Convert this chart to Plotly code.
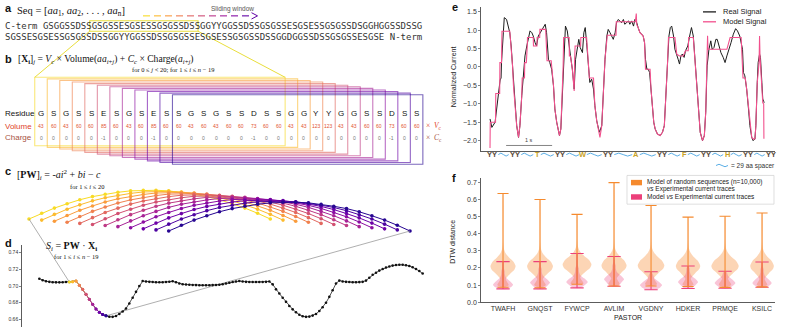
import plotly.graph_objects as go
from plotly.colors import sample_colorscale

W, H = 786, 334
SANS = "Liberation Sans, Arial, sans-serif"
SERIF = "Liberation Serif, DejaVu Serif, serif"
MONO = "DejaVu Sans Mono, Liberation Mono, monospace"

# ------------------------------------------------------------------ data
seq_line1 = "C-term GSGGSSDSSGSGSSESGSESSGSGSSDSSGGYYGGSSDSSGSGSSESGSESSGSGSSDSGGHGGSSDSSG"
seq_line2 = "SGSSESGSESSGSGSSDSSGGYYGGSSDSSGSGSSESGSESSGSGSSDSSGGDGGSSDSSGSGSSESGSE N-term"
window_start_in_line1 = 9          # residues before the highlighted window
window_residues = list("GSGSSESGSESSGSGSSDSSGGYYGGSSDSS")
window_volumes = [43, 60, 43, 60, 60, 85, 60, 43, 60, 85, 60, 60, 43, 60, 43, 60, 60, 73, 60, 60,
                  43, 43, 123, 123, 43, 43, 60, 60, 73, 60, 60]
window_charges = [0, 0, 0, 0, 0, -1, 0, 0, 0, -1, 0, 0, 0, 0, 0, 0, 0, -1, 0, 0,
                  0, 0, 0, 0, 0, 0, 0, 0, -1, 0, 0]
window_size = 20
n_windows = 12

pw_weights = [0.00, 0.20, 0.38, 0.53, 0.67, 0.78, 0.86, 0.93, 0.98, 1.00,
              1.00, 0.98, 0.93, 0.86, 0.78, 0.67, 0.53, 0.38, 0.20, 0.00]

score_values = [0.7088, 0.7070, 0.7058, 0.7050, 0.7045, 0.7044, 0.7044, 0.7046, 0.7048, 0.7048,
                0.7052, 0.7060, 0.7010, 0.6960, 0.6900, 0.6840, 0.6780, 0.6725, 0.6685, 0.6658,
                0.6642, 0.6632, 0.6630, 0.6640, 0.6665, 0.6695, 0.6730, 0.6790, 0.6860, 0.6930,
                0.7000, 0.7060, 0.7055, 0.7050, 0.7048, 0.7046, 0.7045, 0.7046, 0.7048, 0.7052,
                0.7058, 0.7045, 0.7030, 0.7022, 0.7018, 0.7015, 0.7013, 0.7011, 0.7010, 0.7010,
                0.7010, 0.7010, 0.7011, 0.7013, 0.7016, 0.7022, 0.7030, 0.7040, 0.7048, 0.7055,
                0.7060, 0.7055, 0.7050, 0.7048, 0.7048, 0.7048, 0.7048, 0.7048, 0.7050, 0.7055,
                0.7020, 0.6960, 0.6910, 0.6860, 0.6810, 0.6760, 0.6720, 0.6685, 0.6655, 0.6638,
                0.6630, 0.6633, 0.6645, 0.6665, 0.6700, 0.6745, 0.6800, 0.6870, 0.6950, 0.7030,
                0.7065, 0.7055, 0.7050, 0.7048, 0.7046, 0.7046, 0.7047, 0.7050, 0.7065, 0.7100,
                0.7135, 0.7160, 0.7185, 0.7205, 0.7222, 0.7235, 0.7245, 0.7252, 0.7255, 0.7255,
                0.7250, 0.7240, 0.7225, 0.7205, 0.7180, 0.7150]
score_highlight_start = 9
score_ticks = [0.66, 0.68, 0.70, 0.72, 0.74]

signal_time = [0.00, 0.04, 0.11, 0.14, 0.18, 0.22, 0.24, 0.25, 0.29, 0.31,
               0.36, 0.40, 0.43, 0.46, 0.49, 0.51, 0.54, 0.58, 0.62, 0.65,
               0.69, 0.72, 0.76, 0.80, 0.83, 0.87, 0.91, 0.94, 0.98, 1.01,
               1.05, 1.11, 1.16, 1.20, 1.23, 1.27, 1.30, 1.34, 1.38, 1.41,
               1.45, 1.49, 1.51, 1.54, 1.57, 1.59, 1.62, 1.64, 1.68, 1.72,
               1.75, 1.79, 1.83, 1.86, 1.90, 1.93, 1.96, 2.01, 2.04, 2.07,
               2.10, 2.14, 2.17, 2.21, 2.25, 2.28, 2.32, 2.36, 2.38, 2.43,
               2.46, 2.50, 2.54, 2.57, 2.61, 2.64, 2.68, 2.72, 2.75, 2.79,
               2.86, 2.90, 2.93, 3.01, 3.04, 3.08, 3.12, 3.15, 3.19, 3.22,
               3.26, 3.30, 3.33, 3.36, 3.38, 3.41, 3.44, 3.47, 3.50, 3.53,
               3.56, 3.59, 3.64, 3.70, 3.75, 3.79, 3.83, 3.86, 3.89, 3.92,
               3.95, 3.99, 4.02, 4.06, 4.09, 4.12, 4.15, 4.18, 4.22, 4.25,
               4.30, 4.34, 4.38, 4.42, 4.46, 4.49, 4.53, 4.57, 4.62, 4.66,
               4.69, 4.72, 4.76, 4.80, 4.83, 4.87, 4.91, 4.94, 4.98, 5.02,
               5.07, 5.11, 5.15, 5.20, 5.24, 5.29, 5.34, 5.38, 5.43, 5.49,
               5.51, 5.54, 5.58, 5.62, 5.65, 5.69, 5.72, 5.76, 5.78, 5.81,
               5.83, 5.86, 5.88, 5.91, 5.93, 5.95, 5.96]
real_signal = [-1.41, -1.64, -1.50, -1.14, -0.70, -0.35, -0.30, 0.12, 0.93, 1.34,
               1.29, 1.11, 0.93, 0.57, 0.03, -0.51, -1.05, -1.59, -1.91, -1.59,
               -0.78, -0.24, 0.30, 0.57, 0.75, 0.98, 0.93, 0.84, 0.66, 0.57,
               0.84, 0.98, 1.07, 1.16, 0.93, 0.21, 0.12, -0.06, -0.51, -1.14,
               -1.50, -1.77, -1.86, -1.68, -0.87, 0.03, 0.84, 1.11, 0.98, 0.48,
               0.30, -0.06, -0.60, 0.21, 0.57, 0.75, 0.53, 0.39, 0.93, 1.07,
               0.66, 0.03, -0.42, -0.33, -0.60, -1.05, -1.46, -1.68, -1.77, -1.59,
               -0.69, 0.21, 0.84, 1.02, 0.93, 0.84, 0.75, 0.93, 1.20, 1.29,
               1.20, 1.29, 1.16, 1.25, 1.16, 1.25, 1.11, 1.29, 1.20, 1.07,
               0.93, 0.89, 0.84, 0.66, 0.21, -0.06, -0.06, -0.15, -0.60, -1.14,
               -1.50, -1.68, -1.82, -1.86, -1.77, -1.59, -0.78, 0.12, 0.84, 1.07,
               1.11, 0.84, 0.48, 0.35, 0.21, 0.08, 0.30, 0.35, 0.26, 0.44,
               0.57, 0.84, 1.07, 0.84, 0.12, -0.51, -1.23, -1.77, -2.00, -1.86,
               -1.23, 0.03, 0.48, 0.71, 0.48, 0.53, 0.75, 0.75, 0.57, 0.39,
               0.26, 0.12, 0.30, 0.48, 0.66, 0.89, 1.04, 0.98, 0.84, 0.48,
               -0.15, -0.24, -0.60, -1.14, -1.59, -1.91, -2.00, -1.95, -1.59, -0.42,
               0.12, 0.35, 0.26, -0.42, -0.87, -0.93, -0.97]
model_time = [0.00, 0.005, 0.12, 0.125, 0.21, 0.215, 0.25, 0.26, 0.43, 0.46,
              0.49, 0.51, 0.54, 0.58, 0.62, 0.65, 0.69, 0.70, 0.75, 0.755,
              0.79, 0.795, 0.81, 0.815, 0.94, 0.945, 1.02, 1.025, 1.08, 1.085,
              1.21, 1.24, 1.33, 1.38, 1.41, 1.45, 1.49, 1.51, 1.54, 1.57,
              1.59, 1.60, 1.72, 1.725, 1.75, 1.79, 1.83, 1.84, 1.85, 1.97,
              1.975, 2.10, 2.14, 2.16, 2.25, 2.28, 2.32, 2.36, 2.39, 2.43,
              2.46, 2.50, 2.55, 2.74, 2.745, 3.16, 3.18, 3.19, 3.22, 3.26,
              3.33, 3.36, 3.38, 3.48, 3.50, 3.53, 3.56, 3.59, 3.64, 3.70,
              3.75, 3.79, 3.83, 3.86, 3.88, 4.02, 4.06, 4.12, 4.20, 4.25,
              4.31, 4.32, 4.42, 4.46, 4.49, 4.53, 4.57, 4.62, 4.66, 4.69,
              4.72, 4.73, 4.74, 5.15, 5.22, 5.46, 5.50, 5.55, 5.58, 5.62,
              5.65, 5.69, 5.72, 5.76, 5.78, 5.81, 5.85, 5.86, 5.87, 5.91,
              5.93, 5.95, 5.955]
model_signal = [-2.20, -1.50, -1.50, -0.72, -0.72, 0.12, 0.12, 0.97, 0.97, 0.57,
                0.03, -0.51, -1.05, -1.59, -1.91, -1.59, -0.78, -0.30, -0.30, 0.12,
                0.12, 0.57, 0.57, 0.80, 0.80, 0.57, 0.57, 0.80, 0.80, 1.02,
                1.02, 0.17, 0.17, -0.51, -1.14, -1.50, -1.77, -1.86, -1.68, -0.87,
                0.03, 0.80, 0.80, 0.30, 0.30, -0.06, -0.65, 0.21, 0.57, 0.57,
                0.80, 0.80, 0.03, -0.30, -0.30, -1.05, -1.46, -1.68, -1.91, -1.59,
                -0.69, 0.21, 0.86, 0.86, 1.23, 1.23, 1.45, 1.15, 1.07, 0.93,
                0.84, 0.66, -0.06, -0.06, -0.60, -1.14, -1.50, -1.68, -1.82, -1.86,
                -1.77, -1.59, -0.78, 0.12, 0.80, 0.80, 0.35, 0.30, 0.30, 0.44,
                0.44, 0.80, 0.80, 0.12, -0.51, -1.23, -1.77, -2.00, -1.86, -1.23,
                0.03, 0.85, 0.48, 0.48, 0.80, 0.80, -0.30, -0.30, -0.60, -1.14,
                -1.59, -1.91, -1.95, -1.95, -1.59, -0.42, 0.12, 0.84, 0.30, -0.42,
                -0.97, -1.00, -1.95]
signal_ticks = [-2.0, -1.5, -1.0, -0.5, 0.0, 0.5, 1.0, 1.5]
spacer_labels = ["YY", "YY", "T", "YY", "W", "YY", "A", "YY", "F", "YY", "H", "YY", "YY"]

pastor_names = ["TWAFH", "GNQST", "FYWCP", "AVLIM", "VGDNY", "HDKER", "PRMQE", "KSILC"]
random_max = [0.635, 0.600, 0.513, 0.698, 0.565, 0.497, 0.502, 0.521]
random_min = [0.088, 0.085, 0.105, 0.095, 0.095, 0.092, 0.087, 0.090]
random_mode = [0.210, 0.210, 0.220, 0.215, 0.215, 0.212, 0.212, 0.212]
random_width = [0.34, 0.35, 0.39, 0.34, 0.36, 0.33, 0.37, 0.32]
model_max = [0.237, 0.237, 0.285, 0.267, 0.178, 0.212, 0.181, 0.235]
model_min = [0.078, 0.078, 0.084, 0.093, 0.073, 0.080, 0.082, 0.088]
model_mode = [0.103, 0.115, 0.118, 0.135, 0.100, 0.118, 0.113, 0.113]
model_width = [0.27, 0.27, 0.29, 0.27, 0.30, 0.27, 0.28, 0.26]
dtw_ticks = [0.0, 0.1, 0.2, 0.3, 0.4, 0.5, 0.6, 0.7]

# ------------------------------------------------------------------ layout geometry (pixels)
RES_X0, RES_DX = 41.0, 12.52
ROW_RES, ROW_VOL, ROW_CHG = 115, 127.5, 139
BOX_TOP0, BOX_TOP_STEP, BOX_BOT0, BOX_BOT_STEP = 78, 1.6, 147, 1.7
C_X0, C_DX, C_Y0, C_H, C_DY = 29, 12.7, 221, 29, 1.1
D_PX, D_PY, D_XR, D_YR = (22, 430), (247, 330), (-5.2, 117.2), (0.6508, 0.7495)
E_PX, E_PY, E_XR, E_YR = (481, 775), (7, 152), (-0.196, 6.196), (-2.27, 1.63)
F_PX, F_PY, F_XR, F_YR = (481, 775), (180, 305), (-0.595, 7.35), (0.0, 0.723)


def dom_x(p):
    return [p[0] / W, p[1] / W]


def dom_y(p):
    return [1 - p[1] / H, 1 - p[0] / H]


def d_to_px(i, v):
    x = D_PX[0] + (i - D_XR[0]) / (D_XR[1] - D_XR[0]) * (D_PX[1] - D_PX[0])
    y = D_PY[1] - (v - D_YR[0]) / (D_YR[1] - D_YR[0]) * (D_PY[1] - D_PY[0])
    return x, y


win_colors = sample_colorscale("Plasma", [0.93 - 0.88 * k / (n_windows - 1) for k in range(n_windows)])

fig = go.Figure()
shapes, annotations = [], []


def ann(x, y, text, size, color="#222", family=SANS, xanchor="left", yanchor="middle", **kw):
    annotations.append(dict(x=x, y=y, xref="x", yref="y", text=text, showarrow=False,
                            font=dict(size=size, color=color, family=family),
                            xanchor=xanchor, yanchor=yanchor, **kw))


def canvas_line(x0, y0, x1, y1, color, width=1, dash=None, layer="above"):
    shapes.append(dict(type="line", xref="x", yref="y", x0=x0, y0=y0, x1=x1, y1=y1,
                       line=dict(color=color, width=width, dash=dash), layer=layer))


# ------------------------------------------------------------------ panel a
ann(3, 8, "<b>a</b>", 11, "#111")
ann(15, 12, "Seq = [<i>aa</i><sub>1</sub>, <i>aa</i><sub>2</sub>, . . . , <i>aa</i><sub>n</sub>]", 10.5, "#111", SERIF)
ann(209, 9.5, "Sliding window", 6.5, "#555")
arrow_cols = sample_colorscale("Plasma", [0.93 - 0.75 * j / 9 for j in range(10)])
for j in range(10):
    canvas_line(143 + 11 * j, 16, 150 + 11 * j, 16, arrow_cols[j], 1.1)
shapes.append(dict(type="path", xref="x", yref="y", path="M 251.5,12.8 L 257.5,16 L 251.5,19.2",
                   line=dict(color=arrow_cols[-1], width=1), layer="above"))
ann(3, 26, seq_line1, 9, "#333", MONO)
ann(3, 37, seq_line2, 9, "#333", MONO)
CW = 0.602 * 9
hx0 = 3 + (len("C-term ") + window_start_in_line1) * CW
hx1 = hx0 + window_size * CW
shapes.append(dict(type="rect", xref="x", yref="y", x0=hx0, x1=hx1, y0=21, y1=31.5,
                   line=dict(color="#e9de3c", width=1.1), layer="above"))
box_l0 = RES_X0 - RES_DX / 2
box_r0 = box_l0 + window_size * RES_DX
canvas_line(hx0, 31.5, box_l0, BOX_TOP0, "#e9de3c", 1)
canvas_line(hx1, 31.5, box_r0, BOX_TOP0, "#e9de3c", 1)

# ------------------------------------------------------------------ panel b
ann(3, 60, "<b>b</b>", 11, "#111")
ann(16, 60, "[<b>X</b><sub><b>i</b></sub>]<sub><i>j</i></sub> = <i>V<sub>c</sub></i> × Volume(<i>aa</i><sub><i>i</i>+<i>j</i></sub>) + <i>C<sub>c</sub></i> × Charge(<i>a</i><sub><i>i</i>+<i>j</i></sub>)",
    9.6, "#111", SERIF)
ann(217, 70.5, "for 0 ≤ <i>j</i> < 20; for 1 ≤ <i>i</i> ≤ <i>n</i> − 19", 6.5, "#111", SERIF, xanchor="right")
for k in range(n_windows):
    x0 = box_l0 + k * RES_DX
    shapes.append(dict(type="rect", xref="x", yref="y", x0=x0, x1=x0 + window_size * RES_DX,
                       y0=BOX_TOP0 + BOX_TOP_STEP * k, y1=BOX_BOT0 + BOX_BOT_STEP * k,
                       line=dict(color=win_colors[k], width=1.1), opacity=0.6, layer="below"))
res_x = [RES_X0 + RES_DX * p for p in range(len(window_residues))]
for p, x in enumerate(res_x):
    ann(x, ROW_RES, window_residues[p], 8, "#111", xanchor="center")
    ann(x, ROW_VOL, str(window_volumes[p]), 5, "#e2532e", xanchor="center")
    ann(x, ROW_CHG, str(window_charges[p]), 5, "#777", xanchor="center")
ann(3, ROW_RES, "Residue", 8, "#111")
ann(3, ROW_VOL, "Volume", 8, "#e0442a")
ann(3, ROW_CHG, "Charge", 8, "#a8543f")
ann(424, ROW_VOL, "×  <i>V</i><sub>c</sub>", 7.5, "#e0442a", SERIF)
ann(424, ROW_CHG, "×  <i>C</i><sub>c</sub>", 7.5, "#a8543f", SERIF)

# ------------------------------------------------------------------ panel c
ann(3, 173, "<b>c</b>", 11, "#111")
ann(15, 176.5, "[<b>PW</b>]<sub><i>i</i></sub> = -<i>ai</i><sup>2</sup> + <i>bi</i> − <i>c</i>", 10, "#111", SERIF)
ann(106, 188, "for 1 ≤ <i>i</i> ≤ 20", 6.5, "#111", SERIF, xanchor="right")
c_first = c_last = None
for k in range(n_windows):
    xs = [C_X0 + C_DX * (k + i) for i in range(window_size)]
    ys = [C_Y0 - C_H * w + C_DY * k for w in pw_weights]
    if k == 0:
        c_first = (xs[0], ys[0])
    if k == n_windows - 1:
        c_last = (xs[-1], ys[-1])
    fig.add_trace(go.Scatter(x=xs, y=ys, mode="lines+markers", xaxis="x", yaxis="y",
                             line=dict(color=win_colors[k], width=1),
                             marker=dict(color=win_colors[k], size=3.6),
                             hoverinfo="skip", showlegend=False))

# connecting grey lines c -> d
d_first = d_to_px(score_highlight_start, score_values[score_highlight_start])
last_i = score_highlight_start + n_windows - 1
d_last = d_to_px(last_i, score_values[last_i])
fig.add_trace(go.Scatter(x=[c_first[0], d_first[0], None, c_last[0], d_last[0]],
                         y=[c_first[1], d_first[1], None, c_last[1], d_last[1]],
                         mode="lines", line=dict(color="#9a9a9a", width=0.8), xaxis="x", yaxis="y",
                         hoverinfo="skip", showlegend=False))

# ------------------------------------------------------------------ panel d
ann(3, 245, "<b>d</b>", 11, "#111")
ann(44, 249, "<i>S</i><sub><i>i</i></sub> = <b>PW</b> · <b>X</b><sub><b>i</b></sub>", 10, "#111", SERIF)
ann(52, 258.5, "for 1 ≤ <i>i</i> ≤ <i>n</i> − 19", 6.5, "#111", SERIF)
idx = list(range(len(score_values)))
fig.add_trace(go.Scatter(x=idx, y=score_values, mode="lines+markers", xaxis="x2", yaxis="y2",
                         line=dict(color="#222", width=0.8), marker=dict(color="#111", size=2.6),
                         hoverinfo="skip", showlegend=False))
for k in range(n_windows):
    i = score_highlight_start + k
    seg_x = [i, i + 1] if k < n_windows - 1 else [i]
    fig.add_trace(go.Scatter(x=seg_x, y=[score_values[j] for j in seg_x], mode="lines+markers",
                             xaxis="x2", yaxis="y2",
                             line=dict(color=win_colors[k], width=1),
                             marker=dict(color=[win_colors[k]] + ([win_colors[k + 1]] if k < n_windows - 1 else []), size=3),
                             hoverinfo="skip", showlegend=False))

# ------------------------------------------------------------------ panel e
ann(450, 7, "<b>e</b>", 11, "#111")
ann(453, 78, "Normalized Current", 7, "#222", textangle=-90, xanchor="center")
fig.add_trace(go.Scatter(x=signal_time, y=real_signal, mode="lines", xaxis="x3", yaxis="y3",
                         line=dict(color="#1c1c1c", width=1), hoverinfo="skip", showlegend=False))
fig.add_trace(go.Scatter(x=model_time, y=model_signal, mode="lines", xaxis="x3", yaxis="y3",
                         line=dict(color="#f2508d", width=1.1), hoverinfo="skip", showlegend=False))
shapes.append(dict(type="line", xref="x3", yref="y3", x0=0.35, x1=1.35, y0=-2.13, y1=-2.13,
                   line=dict(color="#666", width=0.8)))
annotations.append(dict(x=0.85, y=-2.13, xref="x3", yref="y3", text="1 s", showarrow=False,
                        yanchor="bottom", font=dict(size=5.5, color="#444", family=SANS)))
# legend
canvas_line(703, 12, 716, 12, "#1c1c1c", 1.3)
canvas_line(703, 22, 716, 22, "#f2508d", 1.3)
ann(721, 12, "Real Signal", 7.5, "#222")
ann(721, 22, "Model Signal", 7.5, "#222")
# spacer row
row_x = [492, 515, 537, 560, 583, 608, 636, 662, 684, 706, 727, 748, 771]
half_w = {2: 5.5, 1: 3.0}
for j, lab in enumerate(spacer_labels):
    ann(row_x[j], 156, "<b>%s</b>" % lab, 7.5, "#5b4b3a" if lab == "YY" else "#c9a227", xanchor="center")
    if j < len(spacer_labels) - 1:
        xa = row_x[j] + half_w[len(lab)] + 0.8
        xb = row_x[j + 1] - half_w[len(spacer_labels[j + 1])] - 0.8
        wl = xb - xa
        shapes.append(dict(type="path", xref="x", yref="y",
                           path="M %.1f,156 Q %.1f,153 %.1f,156 T %.1f,156" % (xa, xa + wl / 4, xa + wl / 2, xb),
                           line=dict(color="#5aaee6", width=1), layer="above"))
shapes.append(dict(type="path", xref="x", yref="y",
                   path="M 716,167 Q 719,164.5 722,167 T 728,167",
                   line=dict(color="#5aaee6", width=1), layer="above"))
ann(729, 167, "= 29 aa spacer", 6.5, "#333")

# ------------------------------------------------------------------ panel f
ann(450, 180, "<b>f</b>", 11, "#111")
ann(453, 244, "DTW distance", 7, "#222", textangle=-90, xanchor="center")
ORANGE, PINK = "#f58a2e", "#ec407a"
random_shape = [(-0.11, 0.45), (-0.075, 0.22), (-0.045, 0.55), (-0.02, 0.9), (0.0, 1.0),
                (0.025, 0.85), (0.05, 0.5), (0.075, 0.22), (0.10, 0.08), (0.14, 0.03)]
model_shape = [(-0.012, 0.85), (0.0, 1.0), (0.02, 0.7), (0.04, 0.3), (0.06, 0.18),
               (0.08, 0.16), (0.10, 0.06)]


def violin(c, lo, hi, mode, half, shape, w_lo, w_hi):
    pts = [(lo, w_lo)] + [(mode + o, w) for o, w in shape if lo < mode + o < hi] + [(hi, w_hi)]
    ys = [p[0] for p in pts]
    xr = [c + p[1] * half for p in pts]
    xl = [c - p[1] * half for p in pts]
    return xr + xl[::-1] + [xr[0]], ys + ys[::-1] + [ys[0]]


for c in range(len(pastor_names)):
    vx, vy = violin(c, random_min[c], random_max[c], random_mode[c], random_width[c], random_shape, 0.12, 0.01)
    fig.add_trace(go.Scatter(x=vx, y=vy, fill="toself", fillcolor="rgba(247,150,70,0.40)", mode="lines",
                             line=dict(width=0, shape="spline", smoothing=0.7), xaxis="x4", yaxis="y4",
                             hoverinfo="skip", showlegend=False))
for c in range(len(pastor_names)):
    vx, vy = violin(c, model_min[c], model_max[c], model_mode[c], model_width[c], model_shape, 0.35, 0.01)
    fig.add_trace(go.Scatter(x=vx, y=vy, fill="toself", fillcolor="rgba(236,64,122,0.30)", mode="lines",
                             line=dict(width=0, shape="spline", smoothing=0.7), xaxis="x4", yaxis="y4",
                             hoverinfo="skip", showlegend=False))


def bars(lo_list, hi_list, cap):
    xs, ys = [], []
    for c in range(len(lo_list)):
        xs += [c, c, None, c - cap, c + cap, None, c - cap, c + cap, None]
        ys += [lo_list[c], hi_list[c], None, lo_list[c], lo_list[c], None, hi_list[c], hi_list[c], None]
    return xs, ys


bx, by = bars(model_min, model_max, 0.18)
fig.add_trace(go.Scatter(x=bx, y=by, mode="lines", line=dict(color=PINK, width=1.1), xaxis="x4", yaxis="y4",
                         hoverinfo="skip", showlegend=False))
bx, by = bars(random_min, random_max, 0.15)
fig.add_trace(go.Scatter(x=bx, y=by, mode="lines", line=dict(color=ORANGE, width=1.1), xaxis="x4", yaxis="y4",
                         hoverinfo="skip", showlegend=False))
ann(628, 320.5, "PASTOR", 7, "#222", xanchor="center")
# legend box
shapes.append(dict(type="rect", xref="x", yref="y", x0=627, x1=774, y0=177, y1=206,
                   line=dict(color="#d0d0d0", width=0.7), fillcolor="rgba(255,255,255,0.85)", layer="above"))
shapes.append(dict(type="rect", xref="x", yref="y", x0=631, x1=642, y0=181.5, y1=187,
                   line=dict(width=0), fillcolor=ORANGE, layer="above"))
shapes.append(dict(type="rect", xref="x", yref="y", x0=631, x1=642, y0=196, y1=201.5,
                   line=dict(width=0), fillcolor=PINK, layer="above"))
ann(645, 183.5, "Model of random sequences (n=10,000)", 6.5, "#222")
ann(645, 190.5, "<i>vs</i> Experimental current traces", 6.5, "#222")
ann(645, 199, "Model <i>vs</i> Experimental current traces", 6.5, "#222")

# ------------------------------------------------------------------ axes
axis_font = dict(size=7, color="#333", family=SANS)
fig.update_layout(
    width=W, height=H, margin=dict(l=0, r=0, t=0, b=0, pad=0),
    paper_bgcolor="white", plot_bgcolor="rgba(0,0,0,0)", showlegend=False,
    xaxis=dict(domain=[0, 1], range=[0, W], visible=False, fixedrange=True),
    yaxis=dict(domain=[0, 1], range=[H, 0], visible=False, fixedrange=True),
    xaxis2=dict(domain=dom_x(D_PX), range=list(D_XR), visible=False, anchor="y2"),
    yaxis2=dict(domain=dom_y(D_PY), range=list(D_YR), anchor="x2", showline=True, linecolor="#333",
                linewidth=0.8, ticks="outside", ticklen=2, tickwidth=0.6, tickcolor="#333",
                tickvals=score_ticks, ticktext=["%.2f" % v for v in score_ticks],
                tickfont=dict(size=5, color="#333", family=SANS), showgrid=False, zeroline=False),
    xaxis3=dict(domain=dom_x(E_PX), range=list(E_XR), anchor="y3", showline=True, linecolor="#333",
                linewidth=0.8, showticklabels=False, ticks="", showgrid=False, zeroline=False),
    yaxis3=dict(domain=dom_y(E_PY), range=list(E_YR), anchor="x3", showline=True, linecolor="#333",
                linewidth=0.8, ticks="outside", ticklen=2, tickwidth=0.6, tickcolor="#333",
                tickvals=signal_ticks, tickformat=".1f", tickfont=axis_font, showgrid=False, zeroline=False),
    xaxis4=dict(domain=dom_x(F_PX), range=list(F_XR), anchor="y4", showline=True, linecolor="#333",
                linewidth=0.8, ticks="", tickvals=list(range(len(pastor_names))), ticktext=pastor_names,
                tickfont=axis_font, showgrid=False, zeroline=False),
    yaxis4=dict(domain=dom_y(F_PY), range=list(F_YR), anchor="x4", showline=True, linecolor="#333",
                linewidth=0.8, ticks="outside", ticklen=2, tickwidth=0.6, tickcolor="#333",
                tickvals=dtw_ticks, tickformat=".1f", tickfont=axis_font, showgrid=False, zeroline=False),
    shapes=shapes, annotations=annotations,
)
fig.write_html("out.html", config={"displayModeBar": False, "staticPlot": True},
               post_script="document.body.style.margin='0px';document.body.style.padding='0px';")
